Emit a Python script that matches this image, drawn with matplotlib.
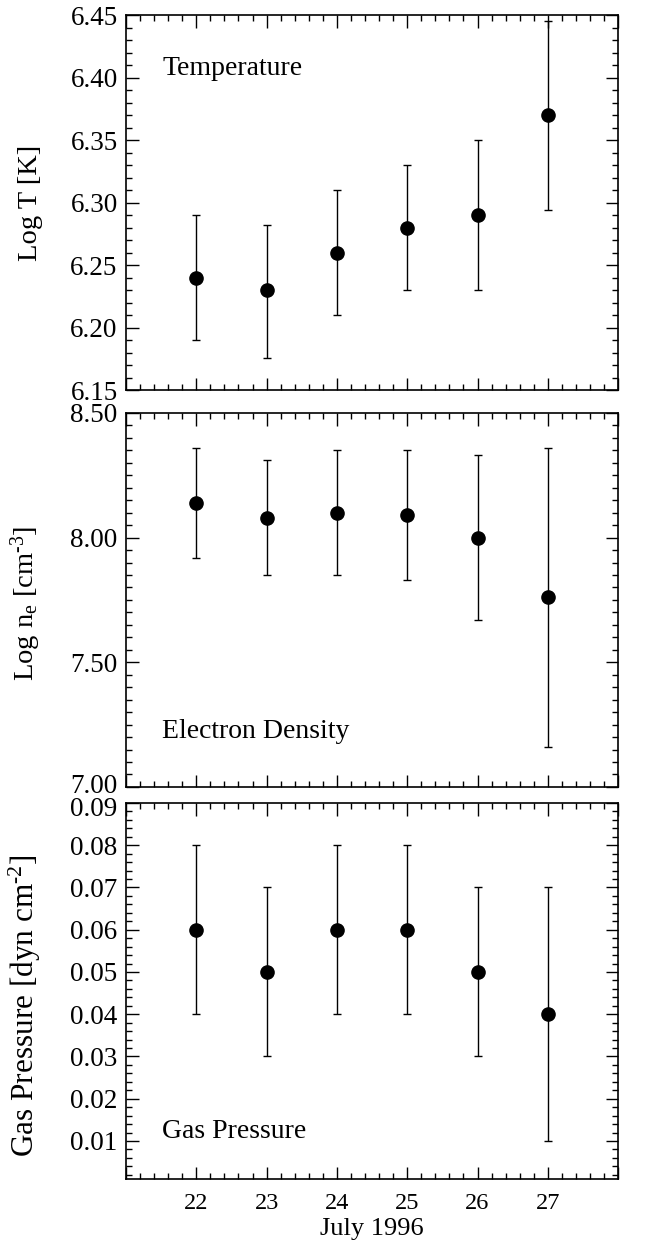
import matplotlib
matplotlib.use("Agg")
import matplotlib.pyplot as plt
import matplotlib.transforms as mtransforms
from matplotlib.ticker import MultipleLocator, FormatStrFormatter

plt.rcParams['font.family'] = ['Liberation Serif', 'DejaVu Serif']
plt.rcParams['mathtext.fontset'] = 'custom'
plt.rcParams['mathtext.rm'] = 'Liberation Serif'
plt.rcParams['mathtext.it'] = 'Liberation Serif:italic'

days = [22, 23, 24, 25, 26, 27]

temp = [6.24, 6.23, 6.26, 6.28, 6.29, 6.37]
temp_hi = [6.29, 6.282, 6.31, 6.33, 6.35, 6.445]
temp_lo = [6.19, 6.176, 6.21, 6.23, 6.23, 6.294]

dens = [8.14, 8.08, 8.10, 8.09, 8.00, 7.76]
dens_hi = [8.36, 8.31, 8.35, 8.35, 8.33, 8.36]
dens_lo = [7.92, 7.85, 7.85, 7.83, 7.67, 7.16]

pres = [0.06, 0.05, 0.06, 0.06, 0.05, 0.04]
pres_hi = [0.08, 0.07, 0.08, 0.08, 0.07, 0.07]
pres_lo = [0.04, 0.03, 0.04, 0.04, 0.03, 0.01]

fig = plt.figure(figsize=(6.57, 12.43), dpi=100)
left, width = 0.1918, 0.749
rects = [(left, 0.6862, width, 0.3017),
         (left, 0.3669, width, 0.3009),
         (left, 0.0515, width, 0.3025)]

hy = '\u2010'
panels = [
    (temp, temp_lo, temp_hi, (6.15, 6.45), 0.05, 0.01, 'Log T [K]', 20.5, 0.5, 'Temperature', 0.84),
    (dens, dens_lo, dens_hi, (7.0, 8.5), 0.5, 0.05, 'Log n$_{\\rm e}$ [cm$^{\\rm ' + hy + '3}$]', 20.5, 0.49, 'Electron Density', 0.131),
    (pres, pres_lo, pres_hi, (0.001, 0.09), 0.01, 0.002, 'Gas Pressure [dyn cm$^{\\rm ' + hy + '2}$]', 22.5, 0.46, 'Gas Pressure', 0.109),
]

axes = []
for i, (vals, lo, hi, ylim, maj, mnr, ylab, ylfs, ylpos, title, ty) in enumerate(panels):
    ax = fig.add_axes(rects[i])
    axes.append(ax)
    yerr = [[v - l for v, l in zip(vals, lo)], [h - v for v, h in zip(vals, hi)]]
    ax.errorbar(days, vals, yerr=yerr, fmt='o', color='black', ms=9.5,
                capsize=3, elinewidth=1.0, capthick=1.0)
    ax.set_xlim(21, 28)
    ax.set_ylim(*ylim)
    ax.xaxis.set_major_locator(MultipleLocator(1))
    ax.xaxis.set_minor_locator(MultipleLocator(0.2))
    ax.yaxis.set_major_locator(MultipleLocator(maj))
    ax.yaxis.set_minor_locator(MultipleLocator(mnr))
    ax.yaxis.set_major_formatter(FormatStrFormatter('%.2f'))
    ax.tick_params(which='both', direction='in', top=True, right=True, width=1.0)
    ax.tick_params(axis='y', labelsize=19.5, pad=6)
    ax.tick_params(axis='x', labelsize=17.5, pad=10)
    ax.tick_params(which='major', length=9)
    ax.tick_params(which='minor', length=4.5)
    for s in ax.spines.values():
        s.set_linewidth(1.2)
    if i < 2:
        ax.set_xticklabels([])
    else:
        ax.set_xlabel('July 1996', fontsize=19, labelpad=3)
        ax.set_xticks([21, 22, 23, 24, 25, 26, 27, 28])
        ax.set_xticklabels(['', '22', '23', '24', '25', '26', '27', ''])
        ax.set_yticks([0.01, 0.02, 0.03, 0.04, 0.05, 0.06, 0.07, 0.08, 0.09])
    ax.set_ylabel(ylab, fontsize=ylfs)
    ax.yaxis.set_label_coords(-0.168, ylpos)
    ax.text(0.074, ty, title, transform=ax.transAxes, fontsize=20, va='baseline', ha='left')

fig.canvas.draw()
# nudge adjacent edge labels apart slightly (they nearly touch in the original)
up = mtransforms.ScaledTranslation(0, 2.5 / 72, fig.dpi_scale_trans)
down = mtransforms.ScaledTranslation(0, -2.5 / 72, fig.dpi_scale_trans)
for lab in axes[1].get_yticklabels():
    if lab.get_text() == '7.00':
        lab.set_transform(lab.get_transform() + up)
for lab in axes[2].get_yticklabels():
    if lab.get_text() == '0.09':
        lab.set_transform(lab.get_transform() + down)

fig.savefig('out.png', dpi=100)
